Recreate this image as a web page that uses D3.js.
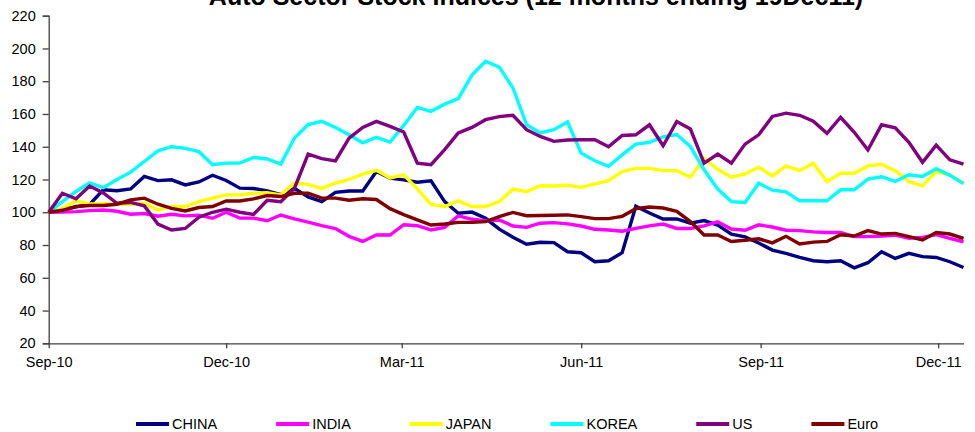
<!DOCTYPE html>
<html><head><meta charset="utf-8">
<script src="https://cdn.jsdelivr.net/npm/d3@7"></script>
<style>
html,body{margin:0;padding:0;background:#fff;}
svg{display:block;font-family:"Liberation Sans",Arial,sans-serif;}
</style></head>
<body>
<svg id="chart" width="975" height="432"></svg>
<script>
const title = "Auto Sector Stock Indices (12 months ending 19Dec11)";
const seriesNames = ["CHINA","INDIA","JAPAN","KOREA","US","Euro"];
const seriesColors = ["#000080","#ff00ff","#ffff00","#00ffff","#800080","#800000"];
const yTicks = [20,40,60,80,100,120,140,160,180,200,220];
const xTickLabels = ["Sep-10","Dec-10","Mar-11","Jun-11","Sep-11","Dec-11"];
const firstWeek = new Date(2010, 8, 6);

const china = [100,101.4,103.3,104.8,113.7,113.1,114.2,121.9,119.3,119.8,116.7,118.5,122.6,119.4,114.7,114.5,113.1,110.8,114.6,109.4,106.5,112.2,113,113,124.9,120.8,119.8,118.3,119.2,106.5,99.4,100.1,96.3,89.7,84.8,80.5,81.7,81.5,75.9,75.3,69.8,70.4,75.3,103.7,99.5,95.9,95.9,93.3,94.9,92.2,86.6,85,81.2,76.9,74.9,72.4,70.4,69.8,70.4,66.1,69.2,75.9,71.8,74.9,72.9,72.4,69.8,66.3];
const india = [100,100.2,100.4,101,101.4,100.6,98.8,99.2,97.6,98.8,97.8,98.2,96.3,100,96.4,96.4,94.8,98.3,96,94,91.8,90,85.3,82.2,86.1,86.1,92.4,91.8,89.2,90.8,97.8,95.7,94.9,95.3,91.6,90.8,93.3,93.7,92.9,91.6,89.6,89.2,88.4,90.2,91.7,92.8,90.1,90.1,91.7,94.2,89.8,89,92.3,91,89,88.8,88,87.6,87.6,85.1,85.1,85.5,86,84.1,84.7,86.3,84.1,82];
const japan = [100,102.4,107,105,105.3,104.9,104.9,105.5,101.4,103.6,103.5,106.5,108.6,110.6,110.6,111.6,112,110.6,117.8,117,114.6,117.8,120,123.3,125.6,121,122.8,114.3,104.8,103.5,106.9,103.5,103.5,106.5,114.1,112.6,116.2,116,116.5,115.2,117.3,119.3,124.8,126.8,126.8,125.4,125.4,121.4,132.9,126.2,121.4,123.4,127.5,122.2,128.3,125.4,129.9,118.7,123.8,123.8,128.3,129.3,125.4,118.7,116.1,124.8,122.8,117.7];
const korea = [100,106.5,112.7,118,115,120,124.5,131,137.5,140,139,137,129,130,130,133.5,132.5,129.4,145.3,153.5,155.5,151.8,147.3,142.4,145.7,142.9,153,164,161.6,166,169.4,183.7,192.2,188.6,175.9,153.5,148.4,150.4,155.1,136.1,131.4,128,135,141.6,142.7,146,147.5,140.1,125.9,114.2,106.5,106,117.7,113.5,112.5,107,107,107,113.7,113.7,120.2,121.7,118.8,122.9,121.8,126.6,122.6,117.5];
const us = [100,111.6,108.2,116,111.8,105.5,106,103.9,92.8,89.2,90.1,97,100,101.9,100,98.7,107.3,106.4,114.7,135.5,132.7,131.4,145.3,151.8,155.5,152.4,149,130,129,138.2,148.4,151.8,156.5,158.4,159.2,150.4,146.3,143.3,144.1,144.3,144.3,140,146.9,147.3,153.4,140.6,155.4,150.8,130,135.5,130,141.6,147.3,158.5,160.5,159.2,155.6,148.2,158,148.8,138,153.4,151.5,142.7,130.5,141,132,129.4];
const euro = [100,101.2,103.5,104.1,104.1,104.9,107.6,108.6,104.9,102.4,100.8,102.9,103.5,106.9,106.9,108.2,110.2,109.6,111.6,111.6,108.6,108.6,107.3,108.2,107.8,102.2,98.6,95.4,92.2,92.8,93.8,93.8,94.3,97.3,99.9,97.9,98,98.2,98.4,97.3,96.1,96.1,97.5,102.2,103.2,102.6,100.6,94.3,86.1,86.1,82.2,82.9,83.8,81.3,85.3,80.6,81.8,82.2,86.3,85.5,88.8,86.7,87.1,85.1,83.1,87.6,86.7,84.1];

const allSeries = [china, india, japan, korea, us, euro];
const dates = china.map((_, i) => d3.timeDay.offset(firstWeek, 7 * i));
const tickDates = xTickLabels.map((_, k) => d3.timeMonth.offset(firstWeek, 3 * k));

const svg = d3.select("#chart");
const plot = {left: 48.7, right: 963.5, top: 15.7, bottom: 343.3};

const x = d3.scaleTime().domain([dates[0], dates[dates.length - 1]]).range([plot.left, plot.right]);
const y = d3.scaleLinear().domain([20, 220]).range([plot.bottom, plot.top]);

// title (partly above the top edge, as in the original)
svg.append("text").attr("x", 536).attr("y", 5).attr("text-anchor", "middle")
  .attr("font-size", 25).attr("font-weight", "bold").attr("fill", "#000").text(title);

// y axis
const yAxis = svg.append("g").attr("transform", `translate(${plot.left},0)`)
  .call(d3.axisLeft(y).tickValues(yTicks).tickSize(6).tickPadding(7).tickFormat(d3.format("d")));
yAxis.selectAll("text").attr("font-size", 14.5).attr("fill", "#000").attr("font-family", "Liberation Sans, Arial, sans-serif");
yAxis.selectAll("path,line").attr("stroke", "#404040").attr("stroke-width", 1.3);

// x axis
const xAxis = svg.append("g").attr("transform", `translate(0,${plot.bottom})`)
  .call(d3.axisBottom(x).tickValues(tickDates).tickSize(5).tickPadding(8)
    .tickFormat((d, i) => xTickLabels[i]).tickSizeOuter(0));
xAxis.selectAll("text").attr("font-size", 14.5).attr("fill", "#000").attr("font-family", "Liberation Sans, Arial, sans-serif");
xAxis.selectAll("path,line").attr("stroke", "#404040").attr("stroke-width", 1.3);

// lines
const line = d3.line().x((d, i) => x(dates[i])).y(d => y(d));
allSeries.forEach((s, k) => {
  svg.append("path").datum(s).attr("d", line).attr("fill", "none")
    .attr("stroke", seriesColors[k]).attr("stroke-width", 3.4)
    .attr("stroke-linejoin", "miter").attr("stroke-miterlimit", 3);
});

// legend
const legend = svg.append("g");
let lx = 136;
seriesNames.forEach((name, k) => {
  legend.append("line").attr("x1", lx).attr("x2", lx + 33).attr("y1", 424).attr("y2", 424)
    .attr("stroke", seriesColors[k]).attr("stroke-width", 4);
  const t = legend.append("text").attr("x", lx + 36).attr("y", 429)
    .attr("font-size", 14.5).attr("fill", "#000").text(name);
  lx = lx + 36 + t.node().getComputedTextLength() + 59;
});
</script>
</body></html>
